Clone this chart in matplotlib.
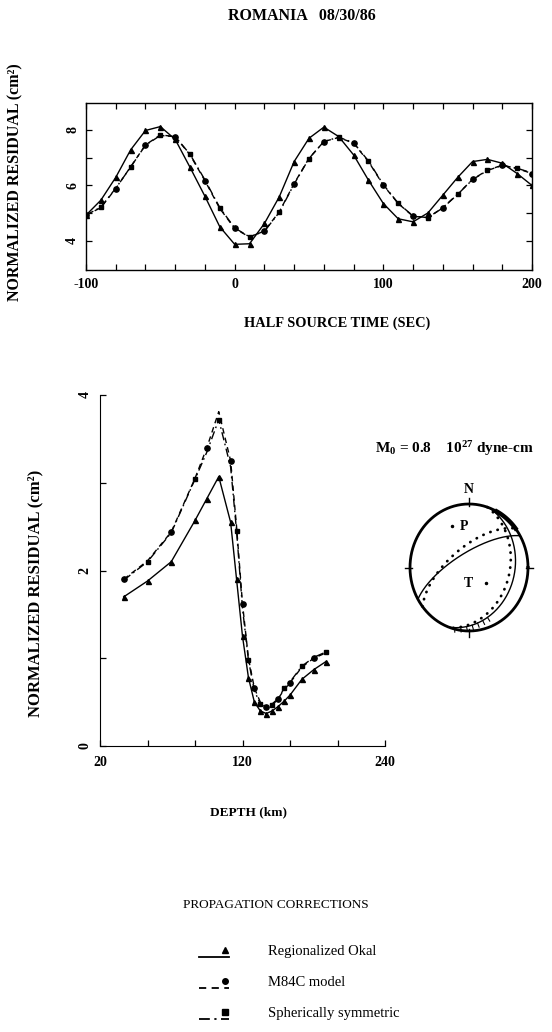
import numpy as np
import matplotlib
matplotlib.use("Agg")
import matplotlib.pyplot as plt
from matplotlib.lines import Line2D

plt.rcParams['font.family'] = ['Liberation Serif', 'DejaVu Serif']
plt.rcParams['mathtext.fontset'] = 'custom'
plt.rcParams['mathtext.rm'] = 'Liberation Serif:bold'
plt.rcParams['mathtext.it'] = 'Liberation Serif:italic'
plt.rcParams['mathtext.bf'] = 'Liberation Serif:bold'
plt.rcParams['axes.unicode_minus'] = False

# ---------------- data ----------------
half_time = list(range(-100, 201, 10))
resid_okal_t = [4.93, 5.47, 6.29, 7.28, 7.98, 8.12, 7.66, 6.65, 5.61, 4.51, 3.88,
                3.90, 4.63, 5.59, 6.86, 7.70, 8.10, 7.76, 7.10, 6.19, 5.35, 4.80,
                4.69, 5.01, 5.65, 6.29, 6.86, 6.94, 6.80, 6.43, 6.00]
resid_m84c_t = [4.93, 5.20, 5.89, 6.67, 7.46, 7.82, 7.76, 7.10, 6.17, 5.17, 4.45,
                4.14, 4.36, 5.05, 6.07, 6.98, 7.58, 7.73, 7.52, 6.86, 6.01, 5.35,
                4.89, 4.84, 5.20, 5.69, 6.22, 6.55, 6.73, 6.61, 6.43]
resid_sph_t = [4.93, 5.22, 5.90, 6.66, 7.45, 7.80, 7.76, 7.12, 6.20, 5.20, 4.47,
               4.15, 4.35, 5.03, 6.05, 6.97, 7.58, 7.74, 7.54, 6.88, 6.03, 5.36,
               4.90, 4.84, 5.19, 5.68, 6.21, 6.54, 6.72, 6.62, 6.45]

depth = [20, 40, 60, 80, 90, 100, 110, 115, 120, 125, 130, 135, 140, 145, 150,
         155, 160, 170, 180, 190]
resid_okal_d = [1.70, 1.88, 2.10, 2.57, 2.82, 3.07, 2.55, 1.90, 1.25, 0.78, 0.50,
                0.40, 0.37, 0.40, 0.45, 0.51, 0.58, 0.76, 0.87, 0.96]
resid_m84c_d = [1.90, 2.11, 2.44, 3.05, 3.40, 3.81, 3.25, 2.50, 1.62, 1.00, 0.66,
                0.50, 0.44, 0.48, 0.54, 0.64, 0.72, 0.90, 1.00, 1.06]
resid_sph_d = [1.89, 2.10, 2.43, 3.04, 3.35, 3.72, 3.18, 2.45, 1.57, 0.98, 0.63,
               0.48, 0.43, 0.47, 0.53, 0.66, 0.73, 0.91, 1.01, 1.07]

top_xticks = [-100, 0, 100, 200]
top_yticks = [4, 6, 8]
bot_xtick_pos = [0, 120, 240]
bot_xtick_lab = ['20', '120', '240']
bot_yticks = [0, 2, 4]

# focal mechanism (strike, dip) of nodal planes, P/T axes (trend, plunge)
planes_solid = [(240, 71), (20, 24)]
planes_dotted = [(232, 64), (18, 32)]
p_axis = (336, 30)
t_axis = (131, 59)

legend_names = ['Regionalized Okal', 'M84C model', 'Spherically symmetric']

# ---------------- figure ----------------
W, H = 552, 1032
fig = plt.figure(figsize=(W / 100, H / 100), dpi=100)

def px_axes(l, t, r, b, **kw):
    ax = fig.add_axes([l / W, 1 - b / H, (r - l) / W, (b - t) / H], **kw)
    ax.patch.set_alpha(0)
    return ax

overlay = fig.add_axes([0, 0, 1, 1], zorder=5)
overlay.set_xlim(0, W)
overlay.set_ylim(H, 0)
overlay.axis('off')
overlay.patch.set_alpha(0)

lw = 1.0
styles = [dict(color='k', lw=lw, ls='-', marker='^', ms=3.6),
          dict(color='k', lw=lw, ls=(0, (4, 3)), marker='o', ms=3.8),
          dict(color='k', lw=lw, ls=(0, (6, 2.5, 1.2, 2.5)), marker='s', ms=3.4)]

tick_font = dict(fontsize=10, fontweight='bold')

# ---------- top panel ----------
ax1 = px_axes(86, 103, 532, 270)
ax1.plot(half_time, resid_okal_t, **styles[0])
ax1.plot(half_time, resid_m84c_t, markevery=(0, 2), **styles[1])
ax1.plot(half_time, resid_sph_t, markevery=(1, 2), **styles[2])
ax1.set_xlim(-100, 200)
ax1.set_ylim(2.955, 8.97)
ax1.set_xticks(np.arange(-100, 201, 20), minor=True)
ax1.set_xticks(top_xticks)
ax1.set_xticklabels([str(v) for v in top_xticks], **tick_font)
ax1.set_yticks(top_yticks)
ax1.set_yticklabels([str(v) for v in top_yticks], rotation=90, va='center', **tick_font)
ax1.set_yticks([4, 5, 6, 7, 8], minor=True)
ax1.tick_params(which='both', direction='in', top=True, right=True, length=4, width=0.9)
ax1.tick_params(axis='x', pad=6)
ax1.tick_params(axis='y', pad=5)
for s in ax1.spines.values():
    s.set_linewidth(1.0)

# ---------- bottom panel ----------
ax2 = px_axes(100, 395, 385, 746)
ax2.plot(depth, resid_okal_d, **styles[0])
ax2.plot(depth, resid_m84c_d, markevery=(0, 2), **styles[1])
ax2.plot(depth, resid_sph_d, markevery=(1, 2), **styles[2])
ax2.set_xlim(0, 240)
ax2.set_ylim(0, 4)
ax2.set_xticks(np.arange(0, 241, 40), minor=True)
ax2.set_xticks(bot_xtick_pos)
ax2.set_xticklabels(bot_xtick_lab, **tick_font)
ax2.set_yticks([0, 1, 2, 3, 4], minor=True)
ax2.set_yticks(bot_yticks)
ax2.set_yticklabels([str(v) for v in bot_yticks], rotation=90, va='center', **tick_font)
ax2.spines['top'].set_visible(False)
ax2.spines['right'].set_visible(False)
ax2.tick_params(which='both', direction='in', length=4, width=0.9)
ax2.tick_params(axis='x', pad=7)
ax2.tick_params(axis='y', pad=6)

# ---------- texts ----------
overlay.text(302, 16, 'ROMANIA   08/30/86', ha='center', va='center', fontsize=11.5,
             fontweight='bold')
overlay.text(15, 182, 'NORMALIZED RESIDUAL (cm²)', rotation=90, ha='center', va='center',
             fontsize=11.5, fontweight='bold')
overlay.text(337, 323, 'HALF SOURCE TIME (SEC)', ha='center', va='center', fontsize=10.4,
             fontweight='bold')
overlay.text(35, 593, 'NORMALIZED RESIDUAL (cm²)', rotation=90, ha='center', va='center',
             fontsize=12, fontweight='bold')
overlay.text(248, 812, 'DEPTH (km)', ha='center', va='center', fontsize=9.5, fontweight='bold')
overlay.text(375, 449, r'M$_0$ = 0.8    10$^{27}$ dyne-cm', ha='left', va='center',
             fontsize=11, fontweight='bold')
overlay.text(276, 905, 'PROPAGATION CORRECTIONS', ha='center', va='center', fontsize=9.5)

# ---------- legend ----------
leg_y = [957, 988, 1019]
leg_text_y = [951, 983, 1014]
leg_markers = ['^', 'o', 's']
leg_ls = ['-', (0, (4, 3)), (0, (6, 2.5, 1.2, 2.5))]
for yy, ty, mk, ls, name in zip(leg_y, leg_text_y, leg_markers, leg_ls, legend_names):
    overlay.add_line(Line2D([199, 229], [yy, yy], color='k', lw=1.3, ls=ls))
    overlay.plot([225], [yy - 7], marker=mk, color='k', ms=4)
    overlay.text(268, ty, name, ha='left', va='center', fontsize=10.5)

# ---------- focal mechanism ----------
cx, cy, rx, ry = 469, 567.5, 59, 63.5
axb = px_axes(cx - 1.25 * rx, cy - 1.25 * ry, cx + 1.25 * rx, cy + 1.25 * ry)
axb.set_xlim(-1.25, 1.25)
axb.set_ylim(-1.25, 1.25)
axb.axis('off')


def proj(trend, plunge):
    trend = np.radians(trend)
    plunge = np.radians(plunge)
    r = np.sqrt(2) * np.sin((np.pi / 2 - plunge) / 2)
    return r * np.sin(trend), r * np.cos(trend)


def great_circle(strike, dip, n=200):
    s = np.radians(strike)
    d = np.radians(dip)
    t = np.linspace(0, np.pi, n)
    sv = np.array([np.cos(s), np.sin(s), 0.0])
    dv = np.array([np.cos(s + np.pi / 2) * np.cos(d), np.sin(s + np.pi / 2) * np.cos(d), np.sin(d)])
    v = np.outer(np.cos(t), sv) + np.outer(np.sin(t), dv)
    trend = np.degrees(np.arctan2(v[:, 1], v[:, 0]))
    plunge = np.degrees(np.arcsin(np.clip(v[:, 2], -1, 1)))
    return proj(trend, plunge)


th = np.linspace(0, 2 * np.pi, 400)
axb.plot(np.cos(th), np.sin(th), color='k', lw=2.0)
tha = np.radians(np.linspace(38, 62, 30))
axb.plot(np.cos(tha), np.sin(tha), color='k', lw=3.2)
for ang in [0, 90, 180, 270]:
    a = np.radians(ang)
    axb.plot([np.sin(a) * 0.97, np.sin(a) * 1.09], [np.cos(a) * 0.97, np.cos(a) * 1.09],
             color='k', lw=1.0)
for st, dp in planes_solid:
    x, y = great_circle(st, dp)
    axb.plot(x, y, color='k', lw=1.0)
for st, dp in planes_dotted:
    x, y = great_circle(st, dp)
    axb.plot(x, y, color='k', lw=2.0, ls=(0, (0.1, 2.6)), dash_capstyle='round')
x, y = great_circle(*planes_solid[1], n=200)
for i in range(150, 195, 7):
    dx = x[i + 1] - x[i - 1]
    dy = y[i + 1] - y[i - 1]
    nrm = np.hypot(dx, dy)
    nx, ny = -dy / nrm, dx / nrm
    axb.plot([x[i], x[i] + 0.07 * nx], [y[i], y[i] + 0.07 * ny], color='k', lw=0.8)

px, py = proj(*p_axis)
tx, ty = proj(*t_axis)
axb.plot([px], [py], 'k.', ms=3)
axb.plot([tx], [ty], 'k.', ms=3)
axb.text(px + 0.2, py, 'P', ha='center', va='center', fontsize=10, fontweight='bold')
axb.text(tx - 0.3, ty, 'T', ha='center', va='center', fontsize=10, fontweight='bold')
axb.text(0, 1.23, 'N', ha='center', va='center', fontsize=10, fontweight='bold')

fig.savefig('out.png', dpi=100)
